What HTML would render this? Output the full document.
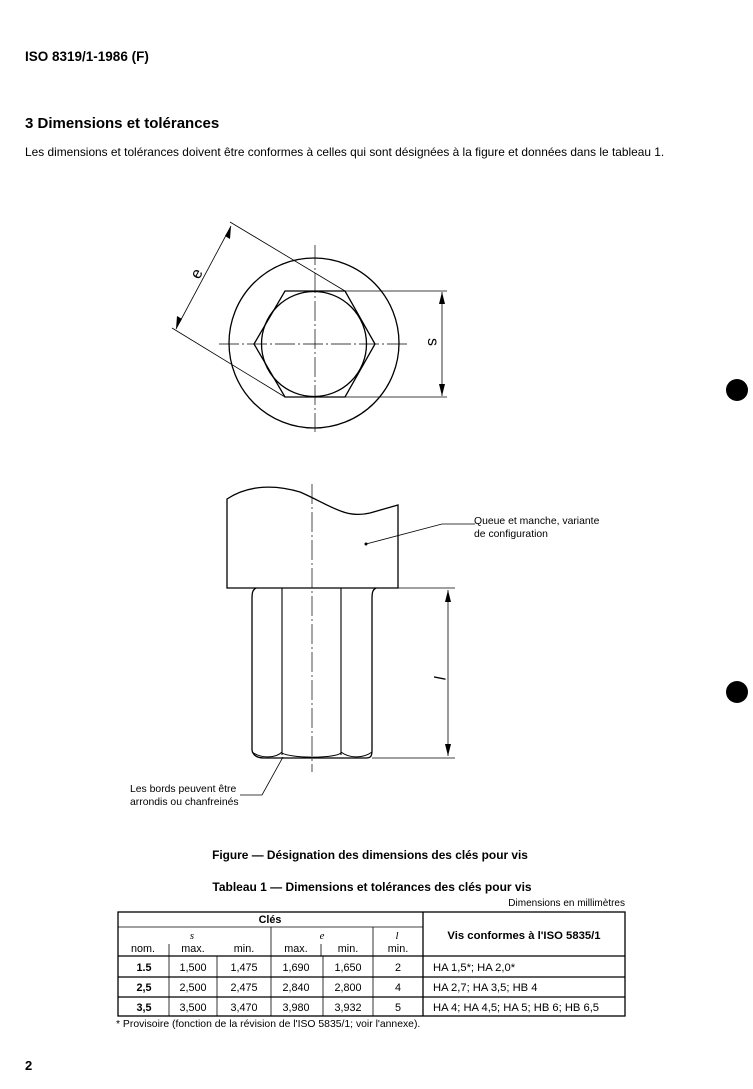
<!DOCTYPE html>
<html><head><meta charset="utf-8"><style>
body{margin:0;background:#fff;}
svg{display:block;font-family:"Liberation Sans",Arial,sans-serif;}
</style></head><body>
<svg width="753" height="1089" viewBox="0 0 753 1089" xmlns="http://www.w3.org/2000/svg">
<rect width="753" height="1089" fill="#fff"/>
<text x="25" y="61" font-size="13.5" font-weight="bold">ISO 8319/1-1986 (F)</text>
<text x="25" y="128" font-size="15" font-weight="bold">3   Dimensions et tolérances</text>
<text x="25" y="156" font-size="11.9">Les dimensions et tolérances doivent être conformes à celles qui sont désignées à la figure et données dans le tableau 1.</text>

<g stroke="#000" fill="none">
<circle cx="314" cy="343" r="85" stroke-width="1.3"/>
<circle cx="314" cy="344" r="52.5" stroke-width="1.3"/>
<polygon points="285,291 345,291 375,344 345,397 285,397 254,344" stroke-width="1.3"/>
<line x1="315" y1="245" x2="315" y2="432" stroke-width="0.7" stroke-dasharray="20,3,2,3"/>
<line x1="219" y1="344" x2="410" y2="344" stroke-width="0.7" stroke-dasharray="20,3,2,3"/>
<line x1="345" y1="291" x2="447" y2="291" stroke-width="0.8"/>
<line x1="285" y1="397" x2="447" y2="397" stroke-width="0.8"/>
<line x1="442" y1="292" x2="442" y2="396" stroke-width="0.8"/>
<line x1="345" y1="291" x2="230" y2="222" stroke-width="0.8"/>
<line x1="285" y1="397" x2="172" y2="328" stroke-width="0.8"/>
<line x1="231" y1="226" x2="176" y2="329" stroke-width="0.8"/>
<path d="M227,588 L227,499 C245,487 270,483 300,492 C330,505 345,519 370,513 L398,505 L398,588 Z" stroke-width="1.3"/>
<line x1="312" y1="484" x2="312" y2="772" stroke-width="0.7" stroke-dasharray="20,3,2,3"/>
<path d="M256,588 C252,590 252,594 252,600 L252,750 C253,756 258,758 264,758 L366,758 C371,758 372,756 372,750 L372,600 C372,594 372,590 376,588" stroke-width="1.3"/>
<line x1="282" y1="588" x2="282" y2="755" stroke-width="1.1"/>
<line x1="341" y1="588" x2="341" y2="755" stroke-width="1.1"/>
<path d="M282,753 C290,758 333,759 341,753" stroke-width="1"/>
<path d="M252,752 C262,759 276,758 282,752" stroke-width="1"/>
<path d="M341,752 C350,759 364,758 372,752" stroke-width="1"/>
<line x1="372" y1="588" x2="455" y2="588" stroke-width="0.8"/>
<line x1="372" y1="758" x2="455" y2="758" stroke-width="0.8"/>
<line x1="448" y1="590" x2="448" y2="756" stroke-width="0.8"/>
<polyline points="366,544 442,524 475,524" stroke-width="0.8"/>
<polyline points="283,757 262,795 240,795" stroke-width="0.8"/>
</g>
<circle cx="366" cy="544" r="1.5"/>
<g fill="#000">
<polygon points="442,292 439,304 445,304"/>
<polygon points="442,396 439,384 445,384"/>
<polygon points="231,226 230,239 225,236"/>
<polygon points="176,329 177,316 182,319"/>
<polygon points="448,590 445,602 451,602"/>
<polygon points="448,756 445,744 451,744"/>
</g>
<text x="0" y="0" font-size="16" transform="translate(199,280) rotate(-62)">e</text>
<text x="0" y="0" font-size="16" transform="translate(428,338) rotate(90)">s</text>
<text x="0" y="0" font-size="16" font-style="italic" transform="translate(434,676) rotate(90)">l</text>
<text x="474" y="524" font-size="10.4">Queue et manche, variante</text>
<text x="474" y="537" font-size="10.4">de configuration</text>
<text x="130" y="792" font-size="10.4">Les bords peuvent être</text>
<text x="130" y="805" font-size="10.4">arrondis ou chanfreinés</text>

<text x="370" y="859" font-size="11.9" font-weight="bold" text-anchor="middle">Figure — Désignation des dimensions des clés pour vis</text>
<text x="372" y="891" font-size="12" font-weight="bold" text-anchor="middle">Tableau 1 — Dimensions et tolérances des clés pour vis</text>
<text x="625" y="906" font-size="10" text-anchor="end">Dimensions en millimètres</text>

<g stroke="#000" fill="none">
<rect x="118" y="912" width="507" height="104" stroke-width="1.3"/>
<line x1="423" y1="912" x2="423" y2="1016" stroke-width="1.3"/>
<line x1="118" y1="927" x2="423" y2="927" stroke-width="0.8"/>
<line x1="118" y1="956" x2="625" y2="956" stroke-width="1.3"/>
<line x1="118" y1="977" x2="625" y2="977" stroke-width="1.3"/>
<line x1="118" y1="997" x2="625" y2="997" stroke-width="1.3"/>
<line x1="169" y1="944" x2="169" y2="1016" stroke-width="0.8"/>
<line x1="217" y1="956" x2="217" y2="1016" stroke-width="0.8"/>
<line x1="271" y1="927" x2="271" y2="1016" stroke-width="0.8"/>
<line x1="321" y1="944" x2="321" y2="956" stroke-width="0.8"/>
<line x1="323" y1="956" x2="323" y2="1016" stroke-width="0.8"/>
<line x1="373" y1="927" x2="373" y2="1016" stroke-width="0.8"/>
</g>
<g font-size="10.8" text-anchor="middle">
<text x="270" y="923" font-weight="bold">Clés</text>
<text x="192" y="939" font-style="italic" font-family="Liberation Serif">s</text>
<text x="322" y="939" font-style="italic" font-family="Liberation Serif">e</text>
<text x="397" y="939" font-style="italic" font-family="Liberation Serif">l</text>
<text x="143" y="952">nom.</text><text x="193" y="952">max.</text><text x="244" y="952">min.</text>
<text x="296" y="952">max.</text><text x="348" y="952">min.</text><text x="398" y="952">min.</text>
<text x="524" y="939" font-weight="bold" font-size="11.3">Vis conformes à l'ISO 5835/1</text>
<text x="144" y="971" font-weight="bold">1.5</text><text x="193" y="971">1,500</text><text x="244" y="971">1,475</text><text x="296" y="971">1,690</text><text x="348" y="971">1,650</text><text x="398" y="971">2</text>
<text x="144" y="991" font-weight="bold">2,5</text><text x="193" y="991">2,500</text><text x="244" y="991">2,475</text><text x="296" y="991">2,840</text><text x="348" y="991">2,800</text><text x="398" y="991">4</text>
<text x="144" y="1011" font-weight="bold">3,5</text><text x="193" y="1011">3,500</text><text x="244" y="1011">3,470</text><text x="296" y="1011">3,980</text><text x="348" y="1011">3,932</text><text x="398" y="1011">5</text>
</g>
<g font-size="11.2">
<text x="433" y="971">HA 1,5*; HA 2,0*</text>
<text x="433" y="991">HA 2,7; HA 3,5; HB 4</text>
<text x="433" y="1011">HA 4; HA 4,5; HA 5; HB 6; HB 6,5</text>
</g>
<text x="116" y="1027" font-size="10.4">*    Provisoire (fonction de la révision de l'ISO 5835/1; voir l'annexe).</text>
<text x="25" y="1070" font-size="13" font-weight="bold">2</text>
<circle cx="737" cy="390" r="11" fill="#000"/>
<circle cx="737" cy="692" r="11" fill="#000"/>
</svg>
</body></html>
